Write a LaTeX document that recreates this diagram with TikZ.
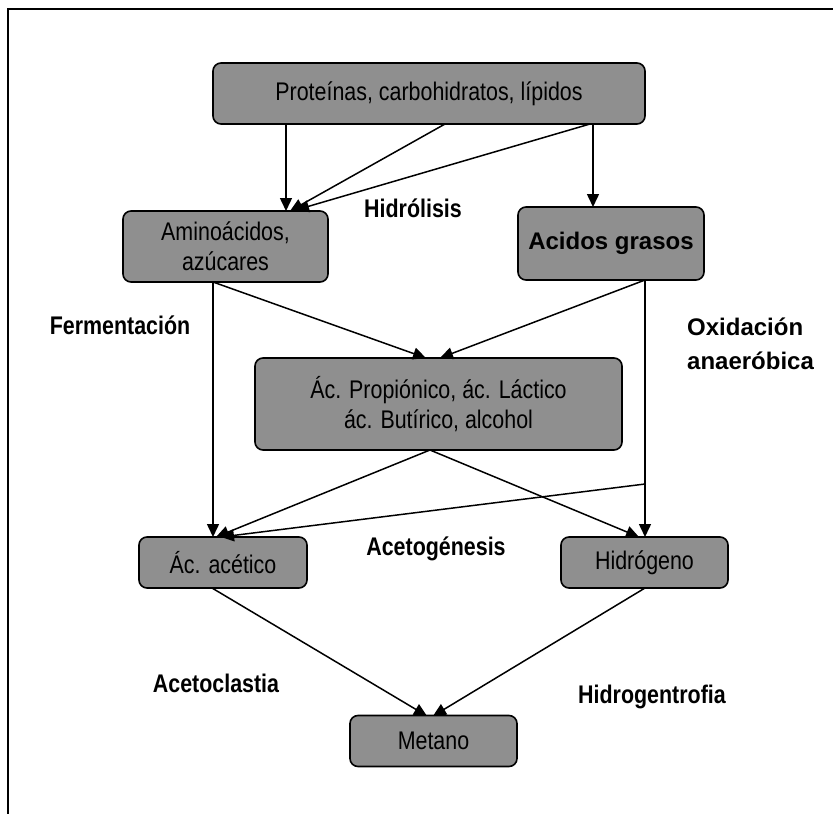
\documentclass[tikz,border=0pt]{standalone}
\usepackage{fontspec}
\setmainfont{Liberation Sans}
\newfontfamily\nar[FakeStretch=0.84]{Liberation Sans}
\usetikzlibrary{arrows.meta,calc}
\definecolor{boxgray}{RGB}{143,143,143}
\begin{document}
\begin{tikzpicture}[x=1pt,y=-1pt,
  box/.style={draw=black,line width=1.6pt,fill=boxgray,rounded corners=8pt,inner sep=0pt,align=center,
    font=\nar\fontsize{25.5}{30}\selectfont},
  lbl/.style={inner sep=0pt,font=\nar\bfseries\fontsize{25.5}{30}\selectfont},
  conn/.style={line width=1.5pt,-{Triangle[length=13pt,width=12pt]}}]
\useasboundingbox (0,0) rectangle (833,814);
\draw[line width=2pt] (8,814) -- (8,9) -- (833,9);

% boxes
\node[box,minimum width=432pt,minimum height=61pt] (top) at (429,93.5) {Proteínas, carbohidratos, lípidos};
\node[box,minimum width=205pt,minimum height=71pt] (am) at (225.5,246.5) {Aminoácidos,\\azúcares};
\node[box,minimum width=186pt,minimum height=73pt,font=\bfseries\fontsize{24}{28}\selectfont] (ag) at (611,243.5) {Acidos grasos};
\node[box,minimum width=367pt,minimum height=92pt] (mid) at (438.5,404) {Ác. Propiónico, ác. Láctico\\ác. Butírico, alcohol};
\node[box,minimum width=168pt,minimum height=51pt] (ac) at (223,562.5) {Ác. acético};
\node[box,minimum width=167pt,minimum height=51pt] (hi) at (644.5,562.5) {Hidrógeno};
\node[box,minimum width=167pt,minimum height=51pt] (me) at (433.5,741) {Metano};

% labels
\node[lbl] (l1) at (413,208) {Hidrólisis};
\node[lbl] (l2) at (120,325) {Fermentación};
\node[inner sep=0pt,anchor=west,align=left,font=\bfseries\fontsize{24}{34}\selectfont] (l3) at (687,344) {Oxidación\\anaeróbica};
\node[lbl] (l4) at (436,549) {Acetogénesis};
\node[lbl] (l5) at (216,683) {Acetoclastia};
\node[lbl] (l6) at (652,697) {Hidrogentrofia};

% connection points
\coordinate (t1) at (286,124);
\coordinate (t2) at (445,124);
\coordinate (t3) at (590,124);
\coordinate (t4) at (593,124);
\coordinate (a1) at (286,211);
\coordinate (a2) at (290,211);
\coordinate (a3) at (296,210);
\coordinate (g1) at (593,207);
\coordinate (ab) at (213,282);
\coordinate (gb) at (645,280);
\coordinate (m1) at (426,358);
\coordinate (m2) at (440,358);
\coordinate (mb) at (430,450);
\coordinate (c1) at (213,537);
\coordinate (c2) at (216,537);
\coordinate (c3) at (221,537);
\coordinate (h1) at (645,537);
\coordinate (h2) at (639,537);
\coordinate (gx) at (645,484);
\coordinate (cb) at (212,588);
\coordinate (hb) at (645,588);
\coordinate (e1) at (427,716);
\coordinate (e2) at (433,716);

\draw[conn] (t1) -- (a1);
\draw[conn] (t2) -- (a2);
\draw[conn] (t3) -- (a3);
\draw[conn] (t4) -- (g1);
\draw[conn] (ab) -- (c1);
\draw[conn] (ab) -- (m1);
\draw[conn] (gb) -- (h1);
\draw[conn] (gb) -- (m2);
\draw[conn] (mb) -- (c2);
\draw[conn] (mb) -- (h2);
\draw[conn] (gx) -- (c3);
\draw[conn] (cb) -- (e1);
\draw[conn] (hb) -- (e2);
\end{tikzpicture}
\end{document}
